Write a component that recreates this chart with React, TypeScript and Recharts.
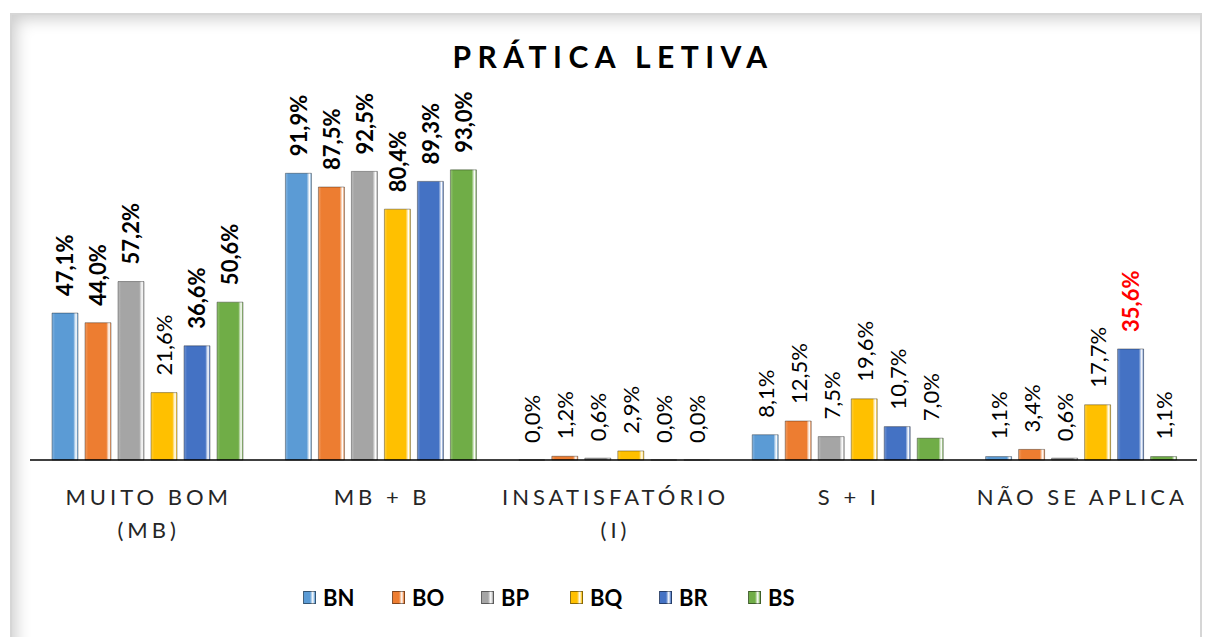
import { Bar, BarChart, LabelList, Legend, XAxis, YAxis } from "recharts";

const categories = ["MUITO BOM (MB)", "MB + B", "INSATISFATÓRIO (I)", "S + I", "NÃO SE APLICA"];

const bnValues = [47.1, 91.9, 0.0, 8.1, 1.1];
const boValues = [44.0, 87.5, 1.2, 12.5, 3.4];
const bpValues = [57.2, 92.5, 0.6, 7.5, 0.6];
const bqValues = [21.6, 80.4, 2.9, 19.6, 17.7];
const brValues = [36.6, 89.3, 0.0, 10.7, 35.6];
const bsValues = [50.6, 93.0, 0.0, 7.0, 1.1];

const series = [
    { key: "BN", values: bnValues, color: "#5B9BD5" },
    { key: "BO", values: boValues, color: "#ED7D31" },
    { key: "BP", values: bpValues, color: "#A5A5A5" },
    { key: "BQ", values: bqValues, color: "#FFC000" },
    { key: "BR", values: brValues, color: "#4472C4" },
    { key: "BS", values: bsValues, color: "#70AD47" },
];

// which data labels are emphasised (series-categoryIndex)
const boldLabels = [
    "BN-0", "BO-0", "BP-0", "BR-0", "BS-0",
    "BN-1", "BO-1", "BP-1", "BQ-1", "BR-1", "BS-1",
];
const redLabels = ["BR-4"];

const data = categories.map((name, i) => {
    const row: { [key: string]: number | string } = { name };
    series.forEach((s) => {
        row[s.key] = s.values[i];
    });
    return row;
});

const FONT = "Lato, 'Open Sans', sans-serif";
const CHART_W = 1205;
const M_LEFT = 30;
const M_RIGHT = 8;
const BAND = (CHART_W - M_LEFT - M_RIGHT) / categories.length;

function formatPct(v: number) {
    return v.toFixed(1).replace(".", ",") + "%";
}

function CategoryTick(props: any) {
    const { x, y, payload } = props;
    const label: string = payload.value;
    const idx = label.indexOf(" (");
    const lines = idx > 0 ? [label.slice(0, idx), label.slice(idx + 1)] : [label];
    return (
        <g>
            {lines.map((line, i) => (
                <text
                    key={i}
                    x={x + 2}
                    y={y + 37 + i * 33}
                    textAnchor="middle"
                    fontFamily={FONT}
                    fontSize={22}
                    letterSpacing={4}
                    fill="#262626"
                >
                    {line}
                </text>
            ))}
        </g>
    );
}

function makeLabel(seriesKey: string) {
    return (props: any) => {
        const { x, y, width, height, value } = props;
        const cx = Number(x) + Number(width) / 2;
        // top of bar (zero-value bars get a tiny min size)
        const top = Number(value) === 0 ? Number(y) + Number(height) : Number(y);
        const ty = top - 17;
        // category derived from the bar's horizontal position
        const catIdx = Math.floor((cx - M_LEFT) / BAND);
        const id = `${seriesKey}-${catIdx}`;
        const red = redLabels.includes(id);
        const bold = red || boldLabels.includes(id);
        return (
            <text
                x={cx}
                y={ty}
                transform={`rotate(-90 ${cx} ${ty})`}
                textAnchor="start"
                dominantBaseline="central"
                fontFamily={FONT}
                fontSize={22}
                fontWeight={bold ? 700 : 400}
                fill={red ? "#FF0000" : "#000"}
            >
                {formatPct(Number(value))}
            </text>
        );
    };
}

function LegendContent() {
    return (
        <div style={{ display: "flex", fontFamily: FONT }}>
            {series.map((s) => (
                <div key={s.key} style={{ width: 89, display: "flex", alignItems: "center" }}>
                    <div
                        style={{
                            width: 11,
                            height: 11,
                            border: "1px solid rgba(0,0,0,0.45)",
                            background: `linear-gradient(90deg, ${s.color} 0%, ${s.color} 55%, #ffffff 80%, ${s.color} 100%)`,
                            marginRight: 7,
                        }}
                    />
                    <span style={{ fontSize: 22, fontWeight: 700, color: "#000" }}>{s.key}</span>
                </div>
            ))}
        </div>
    );
}

export default function App() {
    return (
        <div style={{ position: "fixed", left: 0, top: 0, width: 1205, height: 637, background: "#fff", overflow: "hidden" }}>
            {/* frame with soft inner shadow */}
            <div
                style={{
                    position: "absolute",
                    left: 10,
                    top: 13,
                    width: 1188,
                    height: 660,
                    border: "2px solid #d6d6d6",
                    boxShadow: "inset 12px 12px 16px -8px rgba(0,0,0,0.2)",
                }}
            />
            <div
                style={{
                    position: "absolute",
                    left: 363,
                    width: 500,
                    top: 38,
                    textAlign: "center",
                    fontFamily: FONT,
                    fontWeight: 700,
                    fontSize: 30,
                    letterSpacing: 6.5,
                    color: "#000",
                }}
            >
                PRÁTICA LETIVA
            </div>
            <div style={{ position: "absolute", left: 0, top: 0 }}>
                <BarChart
                    width={CHART_W}
                    height={637}
                    data={data}
                    margin={{ top: 148, right: M_RIGHT, bottom: 117, left: M_LEFT }}
                    barCategoryGap={22}
                    barGap={7}
                >
                    <defs>
                        {series.map((s) => (
                            <linearGradient key={s.key} id={`grad-${s.key}`} x1="0" y1="0" x2="1" y2="0">
                                <stop offset="0%" stopColor={s.color} stopOpacity={0.75} />
                                <stop offset="12%" stopColor={s.color} />
                                <stop offset="82%" stopColor={s.color} />
                                <stop offset="93%" stopColor="#ffffff" stopOpacity={0.8} />
                                <stop offset="100%" stopColor={s.color} />
                            </linearGradient>
                        ))}
                    </defs>
                    <XAxis
                        dataKey="name"
                        height={60}
                        tickLine={false}
                        axisLine={{ stroke: "#000", strokeWidth: 1.5 }}
                        tick={<CategoryTick />}
                        interval={0}
                    />
                    <YAxis hide domain={[0, 100]} />
                    <Legend
                        layout="horizontal"
                        verticalAlign="middle"
                        align="center"
                        wrapperStyle={{ top: 584, left: 303, width: 560, height: 28 }}
                        content={<LegendContent />}
                    />
                    {series.map((s) => (
                        <Bar
                            key={s.key}
                            dataKey={s.key}
                            name={s.key}
                            fill={`url(#grad-${s.key})`}
                            stroke="rgba(0,0,0,0.35)"
                            strokeWidth={1}
                            minPointSize={(v: any) => (Number(v) === 0 ? 0.01 : 0)}
                            isAnimationActive={false}
                        >
                            <LabelList dataKey={s.key} content={makeLabel(s.key)} />
                        </Bar>
                    ))}
                </BarChart>
            </div>
        </div>
    );
}
